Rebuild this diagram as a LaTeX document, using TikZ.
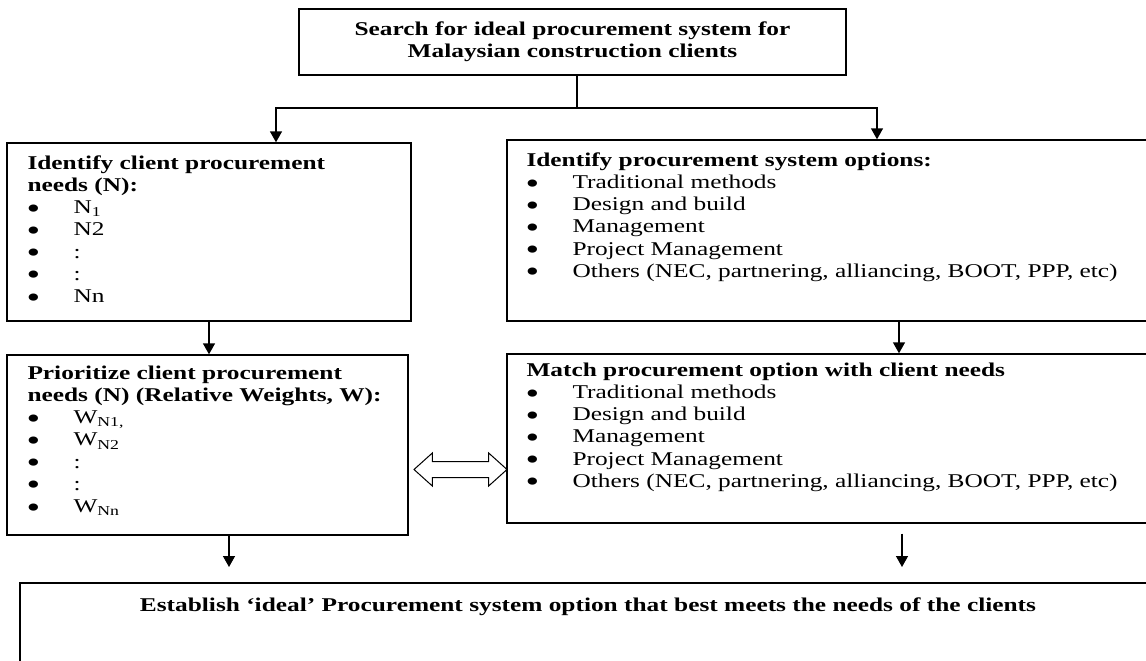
\documentclass[tikz,border=0pt]{standalone}
\usepackage{fontspec}
\setmainfont[FakeStretch=1.3]{Liberation Serif}
\usetikzlibrary{positioning,arrows.meta,shapes.arrows}
\newcommand{\bul}{\makebox[46pt][l]{\hspace{-1pt}\smash{\raisebox{-4.5pt}{\fontsize{30}{22}\selectfont\textbullet}}}}

\begin{document}
\begin{tikzpicture}[x=1pt,y=-1pt,font=\fontsize{19.5}{22.2}\selectfont,
  bx/.style={draw,line width=1.4pt,inner sep=0pt},
  lst/.style={anchor=base west,inner sep=0pt},
  ln/.style={line width=1.2pt},
  arr/.style={line width=1.4pt,-{Triangle[length=11pt,width=12pt]}}]

  \clip (0,0) rectangle (1146,661);

  \node[bx,minimum width=547pt,minimum height=66pt,align=center,font=\fontsize{19.5}{22.2}\selectfont\bfseries] (search) at (572.5,42)
    {Search for ideal procurement system for\\Malaysian construction clients};

  \node[bx,minimum width=404pt,minimum height=178pt] (needs) at (209,232) {};
  \node[bx,minimum width=653pt,minimum height=181pt] (options) at (833.5,230.5) {};
  \node[bx,minimum width=401pt,minimum height=180pt] (prio) at (207.5,445) {};
  \node[bx,minimum width=653pt,minimum height=169pt] (match) at (833.5,438.5) {};
  \node[bx,minimum width=1136pt,minimum height=117pt] (ideal) at (588,641.5) {};

  % texts of the boxes
  \node[lst] (needstxt) at ([shift={(21pt,-27pt)}]needs.north west) {\parbox[t]{380pt}{\raggedright
    \textbf{Identify client procurement}\\ \textbf{needs (N):}\\
    \bul N\textsubscript{1}\\ \bul N2\\ \bul :\\ \bul :\\ \bul Nn}};
  \node[lst] (optionstxt) at ([shift={(20pt,-27pt)}]options.north west) {\parbox[t]{620pt}{\raggedright
    \textbf{Identify procurement system options:}\\
    \bul Traditional methods\\ \bul Design and build\\ \bul Management\\
    \bul Project Management\\ \bul Others (NEC, partnering, alliancing, BOOT, PPP, etc)}};
  \node[lst] (priotxt) at ([shift={(21pt,-25pt)}]prio.north west) {\parbox[t]{380pt}{\raggedright
    \textbf{Prioritize client procurement}\\ \textbf{needs (N) (Relative Weights, W):}\\
    \bul W\textsubscript{N1,}\\ \bul W\textsubscript{N2}\\ \bul :\\ \bul :\\ \bul W\textsubscript{Nn}}};
  \node[lst] (matchtxt) at ([shift={(20pt,-23pt)}]match.north west) {\parbox[t]{620pt}{\raggedright
    \textbf{Match procurement option with client needs}\\
    \bul Traditional methods\\ \bul Design and build\\ \bul Management\\
    \bul Project Management\\ \bul Others (NEC, partnering, alliancing, BOOT, PPP, etc)}};
  \node[anchor=base,inner sep=0pt,font=\fontsize{19.5}{22.2}\selectfont\bfseries] (idealtxt) at ([yshift=-29pt]ideal.north)
    {Establish ‘ideal’ Procurement system option that best meets the needs of the clients};

  \node[draw,double arrow,double arrow head extend=8.5pt,double arrow tip angle=84,
    minimum height=93pt,inner xsep=0pt,inner ysep=7.5pt,line width=1pt] (swap) at (460.5,469.5) {};

  % draw the fork below the top box
  \coordinate (fork) at ([xshift=4.5pt]search.south |- 0,108);
  \draw[ln] ([xshift=4.5pt]search.south) -- (fork);
  \draw[arr] (fork) -| ([xshift=67pt]needs.north);
  \draw[arr] (fork) -| ([xshift=43.5pt]options.north);

  % draw the arrows down the columns
  \draw[arr] (needs.south) -- (needs.south |- prio.north);
  \draw[arr] ([xshift=65.5pt]options.south) -- ([xshift=65.5pt]options.south |- match.north);
  \coordinate (p2i) at ([xshift=21.5pt]prio.south |- 0,567);
  \coordinate (m2i) at ([xshift=68.5pt]match.south |- 0,567);
  \draw[arr] (prio.south -| p2i) -- (p2i);
  \draw[arr] ([yshift=-10pt]match.south -| m2i) -- (m2i);
\end{tikzpicture}
\end{document}
